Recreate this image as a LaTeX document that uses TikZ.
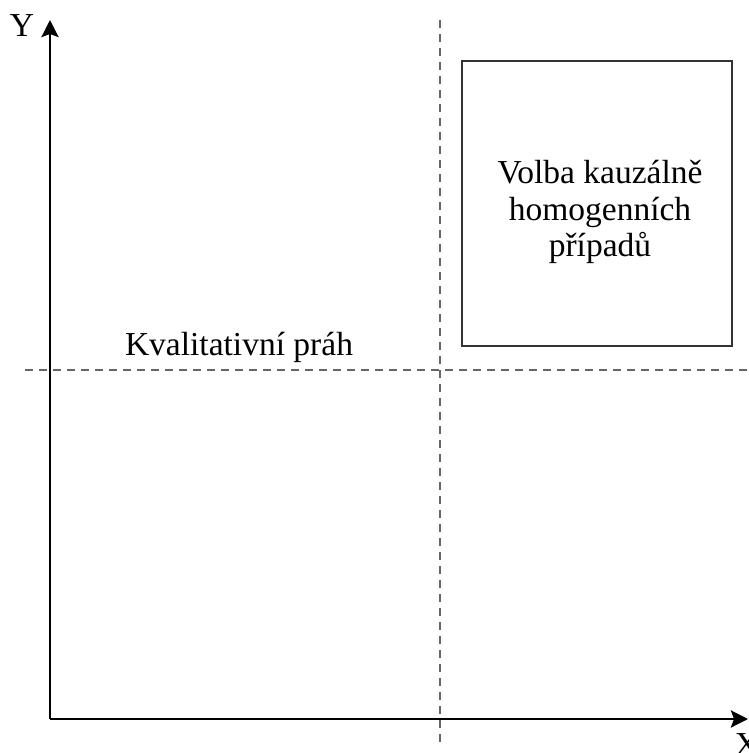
\documentclass[tikz,border=0pt]{standalone}
\usepackage{fontspec}
\setmainfont{Liberation Serif}
\usetikzlibrary{arrows.meta}

\begin{document}
\begin{tikzpicture}[
  x=1pt, y=-1pt,
  axis/.style={line width=2.8pt, -{Stealth[length=17pt,width=17pt,inset=3pt]}},
  thresh/.style={draw=black!60, line width=1.7pt, dash pattern=on 8pt off 6pt},
  region/.style={draw=black!80, line width=2pt, minimum width=270pt, minimum height=285pt},
  lbl/.style={font=\fontsize{33.5}{36.5}\selectfont, align=center}
]
  \useasboundingbox (0,0) rectangle (749,753);

  % axes
  \coordinate (o) at (50,719);
  \coordinate (ytip) at (50,20);
  \coordinate (xtip) at (748,719);
  \node[lbl] (ylab) at (22,26) {Y};
  \node[lbl, anchor=base] (xlab) at (747,755) {X};

  % thresholds
  \coordinate (vtop) at (440,20);
  \coordinate (vbot) at (440,746);
  \coordinate (hleft) at (25,370);
  \coordinate (hright) at (749,370);
  \node[lbl, anchor=base] (qual) at (239,355) {Kvalitativní práh};

  % region of choice
  \node[region] (choice) at (597,203) {};
  \node[lbl] (choicetxt) at (600,212) {Volba kauzálně\\homogenních\\případů};

  \draw[thresh] (vtop) -- (vbot);
  \draw[thresh] (hleft) -- (hright);
  \draw[axis] (o) -- (ytip);
  \draw[axis] (o) -- (xtip);

\end{tikzpicture}
\end{document}
